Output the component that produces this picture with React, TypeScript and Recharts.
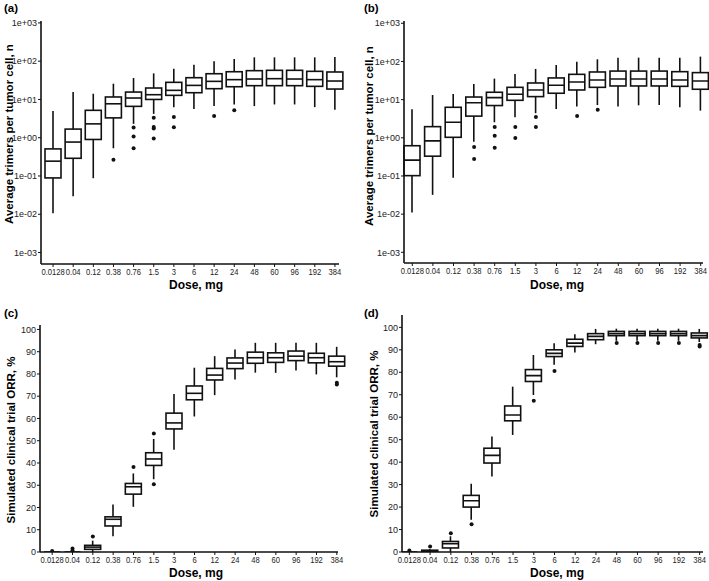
import { ComposedChart, Bar, Scatter, XAxis, YAxis } from 'recharts';

const DOSES = ['0.0128', '0.04', '0.12', '0.38', '0.76', '1.5', '3', '6', '12', '24', '48', '60', '96', '192', '384'];

// (a) average trimers per tumor cell
const A_MIN = [0.0106, 0.0296, 0.0875, 0.53, 2.3, 4.2, 6.3, 5.6, 6.7, 7.4, 6.7, 7.4, 7.4, 6.3, 5.4];
const A_Q1 = [0.089, 0.29, 0.9, 3.3, 6.6, 10.0, 12.8, 15, 19.1, 21.5, 22.9, 22.9, 22.9, 22, 18.7];
const A_MED = [0.244, 0.77, 2.3, 7.7, 10.9, 13.3, 17.3, 23.3, 29.7, 32.9, 34.2, 34.9, 34.2, 32.9, 30.3];
const A_Q3 = [0.51, 1.68, 5.2, 11.6, 15.6, 19.9, 28, 37, 47, 53, 56.5, 57.7, 57.7, 54.3, 52.2];
const A_MAX = [4.97, 15.6, 14.1, 25.8, 36.3, 48, 63.8, 81, 99, 114, 126, 126, 126, 126, 128.6];
const A_OUT = [[], [], [], [0.264], [1.86, 1.08, 0.53], [3.3, 1.9, 1.75, 0.96], [3.46, 1.89], [], [3.67], [5.2], [], [], [], [], []];

// (b)
const B_MIN = [0.011, 0.032, 0.09, 0.79, 2.55, 3.44, 4.4, 5.7, 6.6, 7.2, 6.6, 7.1, 7.2, 6.3, 5.15];
const B_Q1 = [0.102, 0.33, 1.03, 3.7, 7.0, 9.6, 12, 14.7, 17.9, 21, 22.8, 22.8, 22.8, 22.3, 18.7];
const B_MED = [0.26, 0.83, 2.55, 8.3, 11.3, 13.8, 17.9, 23.8, 29, 32.7, 34.7, 34.7, 34.7, 32.7, 30.8];
const B_Q3 = [0.62, 1.96, 6.3, 11.7, 15.6, 21, 27.3, 37, 46, 53, 56, 56, 56, 54, 51];
const B_MAX = [5.6, 13.2, 14.1, 25.7, 35.5, 47, 63.6, 81, 99, 114, 126, 126, 126, 126, 134];
const B_OUT = [[], [], [], [0.575, 0.28], [1.92, 1.14, 0.55], [1.92, 0.99], [3.5, 1.92], [], [3.7], [5.4], [], [], [], [], []];

// (c) simulated clinical trial ORR
const C_MIN = [0, 0, 0, 7.1, 20.3, 32.7, 46, 60.9, 70.5, 77.5, 80.6, 80.5, 81.5, 79.8, 78.5];
const C_Q1 = [0, 0, 1.2, 11.7, 26, 38.9, 55.3, 68.4, 77.3, 82.4, 84.8, 85.2, 86, 85, 83.5];
const C_MED = [0, 0, 2.2, 14.7, 29.3, 41.8, 58, 71.3, 79.5, 84.9, 87.3, 87.3, 88, 87.3, 85.5];
const C_Q3 = [0, 0, 3.0, 15.8, 30.8, 44.6, 62.4, 74.6, 82.5, 87.2, 89.8, 89.5, 90.3, 89.3, 88];
const C_MAX = [0, 0, 5.1, 21.3, 35.3, 50.8, 71, 82.8, 88, 91, 94, 94, 94, 94, 92.2];
const C_OUT = [[0.5], [1.6, 0.7], [7.0], [], [38.2], [53.2, 30.4], [], [], [], [], [], [], [], [], [76, 75.3]];

// (d)
const D_MIN = [0, 0, 0, 14.4, 33.6, 52.1, 69.9, 83.3, 88.8, 92.5, 94, 94, 94, 94, 93.5];
const D_Q1 = [0, 0, 1.8, 20, 39.6, 58.4, 75.9, 87, 91.5, 94.5, 96.3, 96.3, 96.3, 96.3, 95.3];
const D_MED = [0, 0.3, 3.7, 22.8, 43, 61, 78.5, 88.4, 93, 96, 97.2, 97.2, 97.2, 97.2, 96.3];
const D_Q3 = [0, 0.8, 4.7, 25.2, 46.2, 65, 81.2, 90, 94.7, 97.2, 98.2, 98.2, 98.2, 98.2, 97.5];
const D_MAX = [0, 1.3, 7, 30.4, 51.4, 73.6, 87.7, 92.9, 96.9, 99.3, 99.4, 99.4, 99.4, 99.4, 99.3];
const D_OUT = [[0.7], [2.4], [8.4], [12.4], [], [], [67.3], [80.6], [], [], [93], [93], [93], [93], [92.2, 91.5]];

const LOG_TICKS = [1e-3, 1e-2, 1e-1, 1, 10, 100, 1000];
const ORR_TICKS = [0, 10, 20, 30, 40, 50, 60, 70, 80, 90, 100];

const FONT = '"Liberation Sans", Arial, sans-serif';
const INK = '#111';
const BOX_W = 16;
const LW = 1.6;

const fmtLog = (v: number) => {
  const e = Math.round(Math.log10(v));
  return `1e${e < 0 ? '-' : '+'}${String(Math.abs(e)).padStart(2, '0')}`;
};

const XTick = (p: any) => (
  <g transform={`translate(${p.x},${p.y})`}>
    <text textAnchor="middle" dy="0.71em" fontSize={9.5} fill="#222" fontFamily={FONT} transform="scale(0.8,1)">
      {p.payload.value}
    </text>
  </g>
);

const Whisker = (p: any) => {
  const top = Math.min(p.y, p.y + p.height);
  const h = Math.abs(p.height);
  const cx = p.x + p.width / 2;
  return <line x1={cx} x2={cx} y1={top} y2={top + h} stroke={INK} strokeWidth={LW} />;
};

const Box = (p: any) => {
  const top = Math.min(p.y, p.y + p.height);
  const h = Math.abs(p.height);
  return <rect x={p.x} y={top} width={p.width} height={h} fill="#fff" stroke={INK} strokeWidth={LW} />;
};

const Median = (p: any) =>
  Number.isFinite(p.cy) ? (
    <line x1={p.cx - BOX_W / 2} x2={p.cx + BOX_W / 2} y1={p.cy} y2={p.cy} stroke={INK} strokeWidth={LW} />
  ) : null;

const Dot = (p: any) =>
  Number.isFinite(p.cy) && Number.isFinite(p.cx) ? <circle cx={p.cx} cy={p.cy} r={2} fill={INK} /> : null;

const PANELS = [
  {
    tag: '(a)', min: A_MIN, q1: A_Q1, med: A_MED, q3: A_Q3, max: A_MAX, out: A_OUT,
    left: 0, top: 0, width: 350, height: 295,
    plotLeft: 41, plotTop: 21, plotRight: 339, plotBottom: 264, padL: 2, padR: -6,
    log: true, domain: [Math.pow(10, -3.3), Math.pow(10, 3.05)], ticks: LOG_TICKS,
    yTitle: 'Average trimers per tumor cell, n', yTitleX: 9, yTitleY: 134, xTitleX: 196, xTitleY: 285, tagX: 4, tagY: 8,
  },
  {
    tag: '(b)', min: B_MIN, q1: B_Q1, med: B_MED, q3: B_Q3, max: B_MAX, out: B_OUT,
    left: 350, top: 0, width: 359, height: 295,
    plotLeft: 404, plotTop: 21, plotRight: 703, plotBottom: 263, padL: -2, padR: -8,
    log: true, domain: [Math.pow(10, -3.28), Math.pow(10, 3.06)], ticks: LOG_TICKS,
    yTitle: 'Average trimers per tumor cell, n', yTitleX: 369, yTitleY: 136, xTitleX: 557, xTitleY: 285, tagX: 364, tagY: 8,
  },
  {
    tag: '(c)', min: C_MIN, q1: C_Q1, med: C_MED, q3: C_Q3, max: C_MAX, out: C_OUT,
    left: 0, top: 300, width: 350, height: 281,
    plotLeft: 40, plotTop: 325, plotRight: 338, plotBottom: 552, padL: 2, padR: -9,
    log: false, domain: [0, 102], ticks: ORR_TICKS,
    yTitle: 'Simulated clinical trial ORR, %', yTitleX: 11, yTitleY: 440, xTitleX: 196, xTitleY: 573, tagX: 4, tagY: 313,
  },
  {
    tag: '(d)', min: D_MIN, q1: D_Q1, med: D_MED, q3: D_Q3, max: D_MAX, out: D_OUT,
    left: 350, top: 300, width: 359, height: 281,
    plotLeft: 402, plotTop: 315, plotRight: 703, plotBottom: 552, padL: -3, padR: -7,
    log: false, domain: [0, 105.5], ticks: ORR_TICKS,
    yTitle: 'Simulated clinical trial ORR, %', yTitleX: 374, yTitleY: 434, xTitleX: 557, xTitleY: 573, tagX: 364, tagY: 313,
  },
];

function BoxPanel({ p }: { p: (typeof PANELS)[number] }) {
  const rows = DOSES.map((dose, i) => ({
    dose,
    whisker: [p.min[i], p.max[i]],
    box: [p.q1[i], p.q3[i]],
    med: p.med[i],
    o0: p.out[i][0] ?? null,
    o1: p.out[i][1] ?? null,
    o2: p.out[i][2] ?? null,
    o3: p.out[i][3] ?? null,
  }));
  const axisProps = {
    dataKey: 'dose',
    type: 'category' as const,
    padding: { left: p.padL, right: p.padR },
  };
  return (
    <div style={{ position: 'absolute', left: p.left, top: p.top }}>
      <ComposedChart
        width={p.width}
        height={p.height}
        data={rows}
        margin={{ top: p.plotTop - p.top, right: p.left + p.width - p.plotRight, bottom: 0, left: 0 }}
      >
        <XAxis
          {...axisProps}
          xAxisId="w"
          height={p.top + p.height - p.plotBottom}
          interval={0}
          tick={<XTick />}
          tickSize={3}
          tickMargin={1}
          axisLine={{ stroke: INK, strokeWidth: LW }}
          tickLine={{ stroke: INK }}
        />
        {/* second, hidden category axis so the boxes sit on top of the whiskers */}
        <XAxis {...axisProps} xAxisId="b" orientation="top" height={0} hide />
        <YAxis
          yAxisId="y"
          width={p.plotLeft - p.left}
          scale={p.log ? 'log' : 'linear'}
          type="number"
          domain={p.domain}
          allowDataOverflow
          ticks={p.ticks}
          interval={0}
          tickFormatter={p.log ? fmtLog : undefined}
          tick={{ fontSize: 9, fill: '#222', fontFamily: FONT }}
          tickSize={3}
          tickMargin={1}
          axisLine={{ stroke: INK, strokeWidth: LW }}
          tickLine={{ stroke: INK }}
        />
        <Bar dataKey="whisker" xAxisId="w" yAxisId="y" barSize={BOX_W} shape={<Whisker />} isAnimationActive={false} />
        <Bar dataKey="box" xAxisId="b" yAxisId="y" barSize={BOX_W} shape={<Box />} isAnimationActive={false} />
        <Scatter dataKey="med" xAxisId="b" yAxisId="y" shape={<Median />} isAnimationActive={false} />
        {['o0', 'o1', 'o2', 'o3'].map((k) => (
          <Scatter key={k} dataKey={k} xAxisId="b" yAxisId="y" shape={<Dot />} isAnimationActive={false} />
        ))}
      </ComposedChart>
    </div>
  );
}

export default function App() {
  return (
    <div style={{ position: 'absolute', left: 0, top: 0, width: 709, height: 581, background: '#fff', fontFamily: FONT }}>
      {PANELS.map((p) => (
        <BoxPanel key={p.tag} p={p} />
      ))}
      <svg width={709} height={581} style={{ position: 'absolute', left: 0, top: 0, pointerEvents: 'none' }}>
        {PANELS.map((p) => (
          <g key={p.tag} fontFamily={FONT} fontWeight={700} fill="#000">
            <text x={p.tagX} y={p.tagY} dominantBaseline="central" fontSize={11.5}>{p.tag}</text>
            <text
              transform={`translate(${p.yTitleX},${p.yTitleY}) rotate(-90)`}
              textAnchor="middle"
              dominantBaseline="central"
              fontSize={11.5}
            >
              {p.yTitle}
            </text>
            <text x={p.xTitleX} y={p.xTitleY} textAnchor="middle" dominantBaseline="central" fontSize={12}>
              Dose, mg
            </text>
          </g>
        ))}
      </svg>
    </div>
  );
}
